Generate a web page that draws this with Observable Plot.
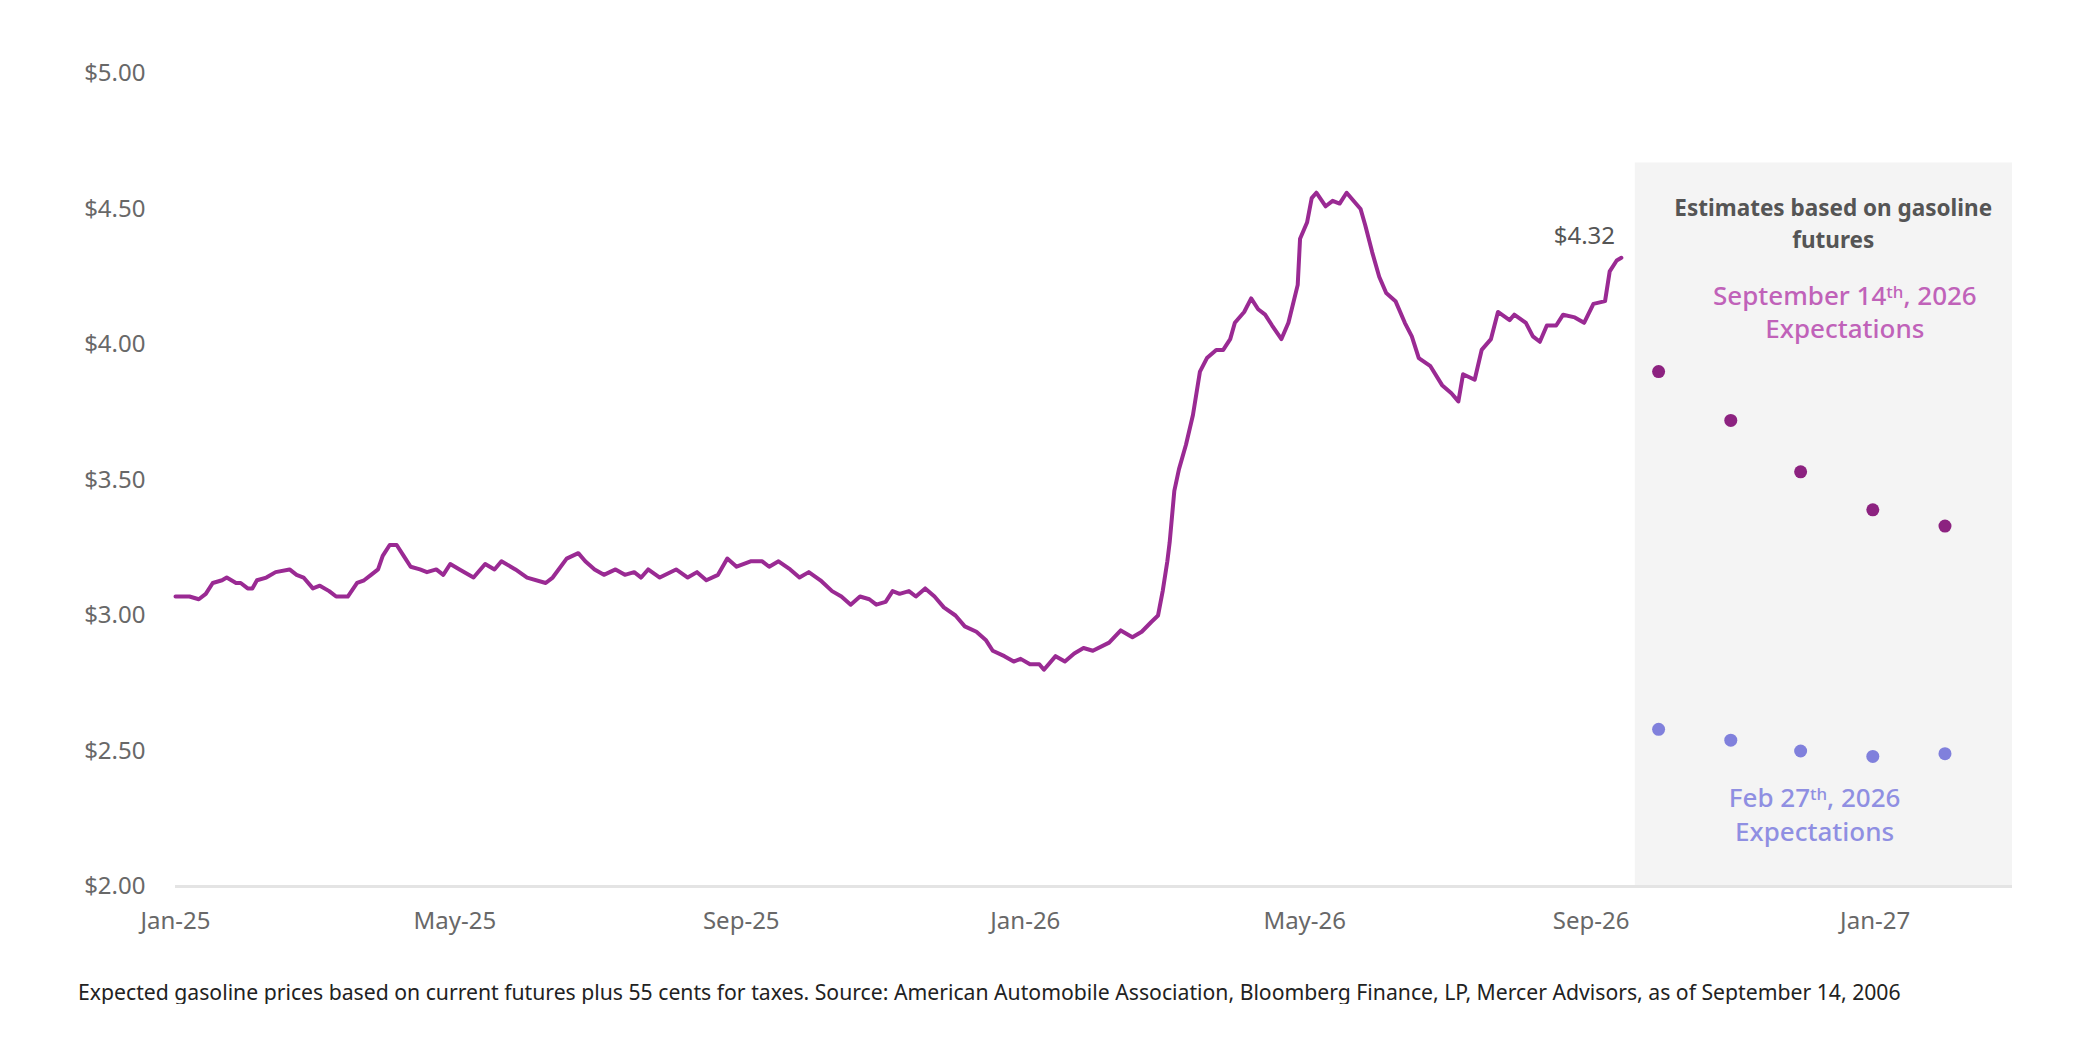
<!DOCTYPE html>
<html>
<head>
<meta charset="utf-8">
<script src="https://cdn.jsdelivr.net/npm/d3@7"></script>
<script src="https://cdn.jsdelivr.net/npm/@observablehq/plot@0.6"></script>
<style>
  body { margin: 0; background: #ffffff; }
  #chart { width: 2100px; }
  #caption {
    font-family: "Noto Sans", sans-serif;
    font-size: 21.2px;
    color: #222;
    margin: 29px 0 0 78px;
    line-height: 25px;
    white-space: nowrap;
  }
</style>
</head>
<body>
<div id="chart"></div>
<div id="caption">Expected gasoline prices based on current futures plus 55 cents for taxes. Source: American Automobile Association, Bloomberg Finance, LP, Mercer Advisors, as of September 14, 2006</div>
<script>
// ---- data ----
const priceDates = [
  "2025-01-01","2025-01-07","2025-01-11","2025-01-14","2025-01-17","2025-01-21","2025-01-23","2025-01-27","2025-01-29",
  "2025-02-01","2025-02-03","2025-02-05","2025-02-09","2025-02-13","2025-02-19","2025-02-22","2025-02-25",
  "2025-03-01","2025-03-04","2025-03-08","2025-03-11","2025-03-16","2025-03-20","2025-03-23","2025-03-26","2025-03-29","2025-03-31",
  "2025-04-03","2025-04-06","2025-04-09","2025-04-12","2025-04-16","2025-04-19","2025-04-23","2025-04-26","2025-04-29",
  "2025-05-03","2025-05-09","2025-05-14","2025-05-18","2025-05-21","2025-05-27",
  "2025-06-01","2025-06-09","2025-06-12","2025-06-18","2025-06-23","2025-06-26","2025-06-30",
  "2025-07-04","2025-07-09","2025-07-13","2025-07-17","2025-07-20","2025-07-23","2025-07-28",
  "2025-08-04","2025-08-09","2025-08-13","2025-08-17","2025-08-22","2025-08-26","2025-08-30",
  "2025-09-05","2025-09-10","2025-09-13","2025-09-17","2025-09-22","2025-09-26","2025-09-30",
  "2025-10-05","2025-10-10","2025-10-14","2025-10-18","2025-10-22","2025-10-26","2025-10-29",
  "2025-11-02","2025-11-05","2025-11-08","2025-11-12","2025-11-15","2025-11-19","2025-11-23","2025-11-27",
  "2025-12-02","2025-12-06","2025-12-11","2025-12-15","2025-12-18","2025-12-23","2025-12-27","2025-12-30",
  "2026-01-03","2026-01-07","2026-01-09","2026-01-14","2026-01-18","2026-01-22","2026-01-26","2026-01-30",
  "2026-02-06","2026-02-11","2026-02-16","2026-02-20","2026-02-24","2026-02-27",
  "2026-03-01","2026-03-03","2026-03-04","2026-03-06","2026-03-08","2026-03-11","2026-03-14","2026-03-17","2026-03-20","2026-03-24","2026-03-27","2026-03-30",
  "2026-04-01","2026-04-05","2026-04-08","2026-04-11","2026-04-14","2026-04-17","2026-04-21","2026-04-24","2026-04-28","2026-04-29",
  "2026-05-02","2026-05-04","2026-05-06","2026-05-10","2026-05-13","2026-05-16","2026-05-19","2026-05-25","2026-05-27","2026-05-30",
  "2026-06-02","2026-06-05","2026-06-09","2026-06-13","2026-06-16","2026-06-19","2026-06-24","2026-06-29",
  "2026-07-03","2026-07-06","2026-07-08","2026-07-13","2026-07-16","2026-07-20","2026-07-23","2026-07-28","2026-07-30",
  "2026-08-04","2026-08-07","2026-08-10","2026-08-13","2026-08-17","2026-08-20","2026-08-25","2026-08-29",
  "2026-09-02","2026-09-07","2026-09-09","2026-09-12","2026-09-14"
];
const priceValues = [
  3.07,3.07,3.06,3.08,3.12,3.13,3.14,3.12,3.12,
  3.10,3.10,3.13,3.14,3.16,3.17,3.15,3.14,
  3.10,3.11,3.09,3.07,3.07,3.12,3.13,3.15,3.17,3.22,
  3.26,3.26,3.22,3.18,3.17,3.16,3.17,3.15,3.19,
  3.17,3.14,3.19,3.17,3.20,3.17,
  3.14,3.12,3.14,3.21,3.23,3.20,3.17,
  3.15,3.17,3.15,3.16,3.14,3.17,3.14,
  3.17,3.14,3.16,3.13,3.15,3.21,3.18,
  3.20,3.20,3.18,3.20,3.17,3.14,3.16,
  3.13,3.09,3.07,3.04,3.07,3.06,3.04,
  3.05,3.09,3.08,3.09,3.07,3.10,3.07,3.03,
  3.00,2.96,2.94,2.91,2.87,2.85,2.83,2.84,
  2.82,2.82,2.80,2.85,2.83,2.86,2.88,2.87,
  2.90,2.945,2.92,2.94,2.975,3.00,
  3.09,3.20,3.27,3.46,3.54,3.63,3.74,3.90,3.95,3.98,3.98,4.02,
  4.08,4.12,4.17,4.13,4.11,4.07,4.02,4.08,4.22,4.39,
  4.45,4.54,4.56,4.51,4.53,4.52,4.56,4.50,4.44,4.34,
  4.25,4.19,4.16,4.08,4.03,3.95,3.92,3.85,
  3.82,3.79,3.89,3.87,3.98,4.02,4.12,4.09,4.11,
  4.08,4.03,4.01,4.07,4.07,4.11,4.10,4.08,
  4.15,4.16,4.27,4.31,4.32
];
const forecastDates = ["2026-09-30","2026-10-31","2026-11-30","2026-12-31","2027-01-31"];
const sepExpectations = [3.90, 3.72, 3.53, 3.39, 3.33];
const febExpectations = [2.58, 2.54, 2.50, 2.48, 2.49];
const tickDates = ["2025-01-01","2025-05-01","2025-09-01","2026-01-01","2026-05-01","2026-09-01","2027-01-01"];
const tickLabels = ["Jan-25","May-25","Sep-25","Jan-26","May-26","Sep-26","Jan-27"];
const yTicks = [2.0, 2.5, 3.0, 3.5, 4.0, 4.5, 5.0];
const xDomain = ["2025-01-01", "2027-03-01"];
const panelDates = ["2026-09-20", "2027-03-01"];
const panelValues = [2.0, 4.67];
const noteDates = ["2026-12-14", "2026-12-19", "2026-12-06"];
const noteValues = [4.454, 4.125, 2.27];
const noteTexts = [
  "Estimates based on gasoline\nfutures",
  "September 14\u1D57\u02B0, 2026\nExpectations",
  "Feb 27\u1D57\u02B0, 2026\nExpectations"
];

// ---- chart ----
const parse = d3.utcParse("%Y-%m-%d");
const labelByTime = new Map(tickDates.map((d, i) => [+parse(d), tickLabels[i]]));
const priceIdx = priceValues.map((_, i) => i);
const fIdx = forecastDates.map((_, i) => i);
const panel = [{x1: parse(panelDates[0]), x2: parse(panelDates[1]), y1: panelValues[0], y2: panelValues[1]}];
const lastI = priceValues.length - 1;

const lineColor = "#9a2a93";
const sepDotColor = "#8c2280";
const febDotColor = "#8080dc";
const tickColor = "#686868";

const chart = Plot.plot({
  width: 2100,
  height: 950,
  marginLeft: 175,
  marginRight: 88,
  marginTop: 73,
  marginBottom: 64,
  style: {fontFamily: "Noto Sans, sans-serif", fontSize: "24px", color: tickColor, background: "#ffffff"},
  x: {type: "utc", domain: xDomain.map(parse)},
  y: {domain: [yTicks[0], yTicks[yTicks.length - 1]]},
  marks: [
    Plot.rect(panel, {x1: "x1", x2: "x2", y1: "y1", y2: "y2", fill: "#f4f4f4"}),
    Plot.ruleY([yTicks[0]], {stroke: "#e4e4e4", strokeWidth: 3}),
    Plot.axisY(yTicks, {tickSize: 0, tickPadding: 30, tickFormat: d => "$" + d.toFixed(2), label: null, fill: tickColor, fontSize: 24}),
    Plot.axisX(tickDates.map(parse), {tickSize: 0, tickPadding: 25, tickFormat: d => labelByTime.get(+d), label: null, fill: tickColor, fontSize: 24}),
    Plot.line(priceIdx, {x: i => parse(priceDates[i]), y: i => priceValues[i], stroke: lineColor, strokeWidth: 4, strokeLinejoin: "round", strokeLinecap: "round"}),
    Plot.text([lastI], {x: i => parse(priceDates[i]), y: i => priceValues[i], text: i => "$" + priceValues[i].toFixed(2), dx: -37, dy: -21, fill: "#555555", fontSize: 24}),
    Plot.dot(fIdx, {x: i => parse(forecastDates[i]), y: i => sepExpectations[i], r: 6.5, fill: sepDotColor, stroke: "none"}),
    Plot.dot(fIdx, {x: i => parse(forecastDates[i]), y: i => febExpectations[i], r: 6.5, fill: febDotColor, stroke: "none"}),
    Plot.text([0], {x: i => parse(noteDates[i]), y: i => noteValues[i], text: i => noteTexts[i], fill: "#555555", fontSize: 22.5, fontWeight: 700, lineHeight: 1.42}),
    Plot.text([1], {x: i => parse(noteDates[i]), y: i => noteValues[i], text: i => noteTexts[i], fill: "#c062b9", fontSize: 26, fontWeight: 500, lineHeight: 1.3}),
    Plot.text([2], {x: i => parse(noteDates[i]), y: i => noteValues[i], text: i => noteTexts[i], fill: "#8f8fe2", fontSize: 26, fontWeight: 500, lineHeight: 1.3})
  ]
});
document.getElementById("chart").appendChild(chart);
</script>
</body>
</html>
